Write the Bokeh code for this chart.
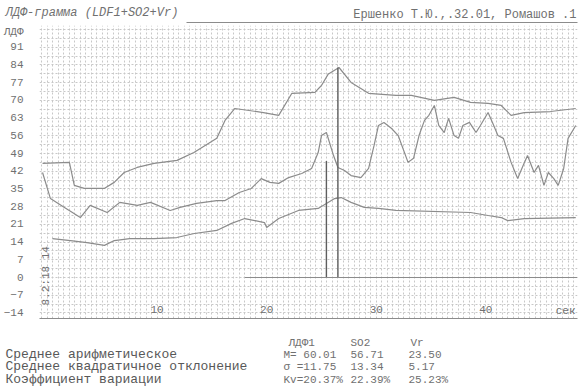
from bokeh.plotting import figure
from bokeh.models import Range1d, SingleIntervalTicker, FixedTicker, Label
from bokeh.layouts import column
from bokeh.core.properties import value
from bokeh.embed import file_html
from bokeh.resources import INLINE

# ---------------- data ----------------
so2_t = [-0.45, 2.0, 2.45, 3.36, 5.18, 6.09, 7.0, 8.18, 9.73, 11.82, 13.36, 15.45, 16.2, 17.1,
         19.7, 21.1, 22.3, 24.4, 25.0, 25.6, 26.6, 27.7, 29.3, 31.8, 33.2, 35.3, 37.1, 38.6,
         40.2, 41.4, 42.3, 43.5, 45.9, 48.2]
so2 = [45.1, 45.5, 36.4, 35.2, 35.2, 37.6, 41.5, 43.5, 45.1, 46.3, 49.4, 55.0, 62.1, 66.8,
       65.2, 64.1, 72.8, 73.2, 75.9, 80.3, 83.0, 77.1, 72.8, 72.0, 72.0, 70.0, 71.2, 69.2,
       68.8, 68.0, 64.1, 65.2, 65.6, 66.8]

ldf1_t = [-0.45, 0.27, 1.55, 3.0, 3.9, 5.45, 6.6, 8.2, 9.4, 11.2,
          12.1, 13.6, 15.45, 16.2, 17.5, 18.6, 19.5, 20.3, 21.1, 22.0,
          23.2, 24.1, 24.7, 25.0, 25.45, 26.1, 26.5, 27.1, 27.7, 28.6,
          29.3, 29.8, 30.2, 30.7, 31.4, 32.0, 32.9, 33.4, 33.9, 34.4,
          34.8, 35.3, 35.7, 36.2, 36.6, 37.1, 37.5, 37.9, 38.5, 39.1,
          39.5, 40.2, 40.6, 41.1, 41.6, 42.3, 42.9, 43.4, 43.8, 44.4,
          44.8, 45.3, 45.7, 46.2, 46.6, 47.1, 47.5, 48.2]
ldf1 = [41.5, 31.2, 27.7, 23.7, 28.5, 25.7, 29.7, 28.5, 29.7, 26.5,
        27.7, 29.3, 30.4, 30.4, 33.6, 35.2, 39.1, 37.6, 37.2, 39.5,
        41.1, 43.1, 49.4, 56.1, 57.3, 48.2, 43.5, 42.3, 40.3, 39.5,
        43.1, 52.2, 60.1, 61.3, 58.9, 56.1, 45.5, 47.1, 56.1, 62.1,
        64.1, 68.0, 60.1, 57.3, 62.9, 56.1, 55.0, 60.1, 61.3, 57.3,
        60.1, 65.2, 61.3, 56.1, 55.0, 45.5, 39.1, 44.3, 48.2, 41.5,
        44.3, 36.4, 41.5, 39.1, 36.4, 43.1, 55.0, 60.1]

vr_t = [0.45, 2.1, 3.6, 5.2, 6.1, 7.5, 9.7, 11.8, 13.4, 15.45, 16.8, 18.0, 19.8, 20.0, 21.1,
        22.9, 24.7, 26.2, 26.8, 27.7, 28.9, 30.2, 31.8, 38.6, 40.2, 41.4, 42.0, 43.5, 48.2]
vr = [15.4, 14.6, 13.8, 12.7, 14.6, 15.4, 15.4, 15.8, 17.4, 18.6, 21.4, 23.3, 21.7, 19.8, 23.3,
      26.5, 27.3, 31.2, 31.6, 29.7, 27.7, 27.3, 26.5, 25.7, 24.5, 23.7, 22.5, 23.3, 23.7]

marker_t = [25.45, 26.5]
marker_bottom = [0.0, 0.0]
marker_top = [46.0, 83.0]
baseline_t = [18.0, 48.36]
baseline_v = [0.0, 0.0]

y_ticks = [98, 91, 84, 77, 70, 63, 56, 49, 42, 35, 28, 21, 14, 7, 0, -7, -14]
y_top_label = "ЛДФ"
x_ticks = [10, 20, 30, 40]
x_unit = "сек"

title_text = "ЛДФ-грамма  (LDF1+SO2+Vr)"
subject_text = "Ершенко Т.Ю.,.32.01, Ромашов .1"
stamp_text = "8.2:18 14"

col_names = ["ЛДФ1", "SO2", "Vr"]
stat_names = ["Среднее арифметическое", "Среднее квадратичное отклонение", "Коэффициент вариации"]
ldf1_stats = ["M= 60.01", "σ =11.75", "Kv=20.37%"]
so2_stats = ["56.71", "13.34", "22.39%"]
vr_stats = ["23.50", "5.17", "25.23%"]

# ---------------- layout (page pixels, origin top-left) ----------------
W = 578
H_HEAD, H_MAIN, H_TAB = 25, 297, 66
ML, MR, MB = 37, 1, 4
X0, X1 = -0.727, 48.36
Y0, Y1 = -16.2, 99.6
FW = W - ML - MR
FH = H_MAIN - MB
MAIN_TOP = H_HEAD

def dx(px):
    return X0 + (px - ML) * (X1 - X0) / FW

def dy(py):
    return Y1 - (py - MAIN_TOP) * (Y1 - Y0) / FH

MONO = "Liberation Mono"
TXT = "#707070"
LINE = "#8c8c8c"
GRID = "#c8c8c8"

def plain_fig(h):
    f = figure(width=W, height=h, x_range=Range1d(0, W), y_range=Range1d(h, 0),
               output_backend="svg", toolbar_location=None, frame_align=False,
               min_border=0, x_axis_type=None, y_axis_type=None)
    f.outline_line_color = None
    f.xgrid.visible = False
    f.ygrid.visible = False
    f.border_fill_color = "white"
    return f

# ---------- header ----------
head = plain_fig(H_HEAD)
head.text(x=[5], y=[12], text=[title_text], text_font=value(MONO), text_font_size="12px",
          text_font_style="italic", text_color=TXT, text_baseline="middle", text_align="left")
head.text(x=[576], y=[14], text=[subject_text], text_font=value(MONO), text_font_size="12px",
          text_color=TXT, text_baseline="middle", text_align="right")
head.line(x=[186, 577], y=[22, 22], line_color=LINE, line_width=1)

# ---------- main chart ----------
p = figure(width=W, height=H_MAIN, x_range=Range1d(X0, X1), y_range=Range1d(Y0, Y1),
           output_backend="svg", toolbar_location=None, frame_align=False,
           min_border_left=ML, min_border_right=MR, min_border_top=0, min_border_bottom=MB)
p.outline_line_color = None
p.background_fill_color = "white"
p.border_fill_color = "white"

p.xgrid.ticker = SingleIntervalTicker(interval=0.5)
p.ygrid.ticker = SingleIntervalTicker(interval=3.5)
for g in (p.xgrid, p.ygrid):
    g.grid_line_color = GRID
    g.grid_line_dash = "2 2"
    g.grid_line_width = 1

p.yaxis.ticker = FixedTicker(ticks=y_ticks)
p.yaxis.major_label_overrides = {y_ticks[0]: y_top_label}
p.yaxis.axis_line_color = None
p.yaxis.major_tick_line_color = None
p.yaxis.minor_tick_line_color = None
p.yaxis.major_label_standoff = 10
p.yaxis.major_label_text_font = MONO
p.yaxis.major_label_text_font_size = "11px"
p.yaxis.major_label_text_color = TXT

p.xaxis.ticker = FixedTicker(ticks=x_ticks)
p.xaxis.axis_line_color = LINE
p.xaxis.major_tick_line_color = None
p.xaxis.minor_tick_line_color = None
p.xaxis.major_tick_in = 0
p.xaxis.major_tick_out = 0
p.xaxis.major_label_standoff = -13
p.xaxis.major_label_text_font = MONO
p.xaxis.major_label_text_font_size = "11px"
p.xaxis.major_label_text_color = TXT

p.line(so2_t, so2, line_color=LINE, line_width=1.2)
p.line(ldf1_t, ldf1, line_color=LINE, line_width=1.2)
p.line(vr_t, vr, line_color=LINE, line_width=1.2)
p.segment(x0=marker_t, y0=marker_bottom, x1=marker_t, y1=marker_top,
          line_color="#5e5e5e", line_width=1.4)
p.line(baseline_t, baseline_v, line_color=LINE, line_width=1)

p.add_layout(Label(x=dx(575), y=dy(310), text=x_unit, text_font=MONO, text_font_size="11px",
                   text_color=TXT, text_align="right", text_baseline="middle"))
p.add_layout(Label(x=dx(44), y=dy(305), text=stamp_text, text_font=MONO, text_font_size="11px",
                   text_color=TXT, text_align="left", text_baseline="middle",
                   angle=90, angle_units="deg"))

# ---------- statistics table ----------
tab = plain_fig(H_TAB)
hdr_y = 20
row_y = [32, 44, 57]
col_x = [288, 350, 410]
val_x = [283, 350, 408]
tab.text(x=col_x, y=[hdr_y] * 3, text=col_names, text_font=value(MONO), text_font_size="11px",
         text_color=TXT, text_baseline="middle", text_align="left")
tab.text(x=[5] * 3, y=row_y, text=stat_names, text_font=value(MONO), text_font_size="13px",
         text_color="#585858", text_baseline="middle", text_align="left")
for xs, vals in zip(val_x, [ldf1_stats, so2_stats, vr_stats]):
    tab.text(x=[xs] * 3, y=row_y, text=vals, text_font=value(MONO), text_font_size="11px",
             text_color=TXT, text_baseline="middle", text_align="left")

layout = column(head, p, tab, spacing=0)
open("out.html", "w").write(file_html(layout, INLINE))
